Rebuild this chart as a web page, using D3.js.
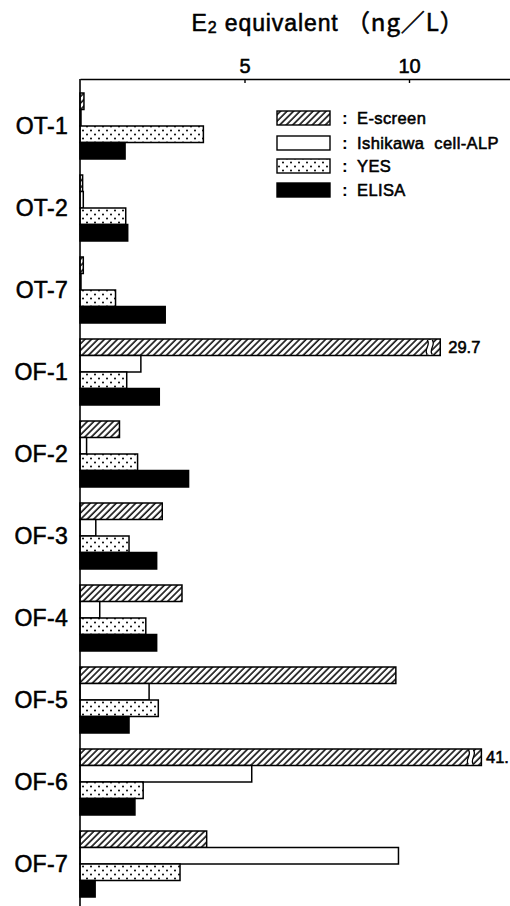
<!DOCTYPE html>
<html>
<head>
<meta charset="utf-8">
<script src="https://cdn.jsdelivr.net/npm/d3@7"></script>
<style>
  html, body { margin: 0; padding: 0; background: #fff; }
  svg { display: block; }
  text { font-family: "Liberation Sans", Arial, "Noto Sans CJK JP", sans-serif; fill: #000; }
  .heavy { stroke: #000; stroke-width: 0.55px; paint-order: stroke; }
</style>
</head>
<body>
<svg id="chart" width="510" height="906"></svg>
<script>
// Samples and measured E2 equivalents (ng/L) per assay
const samples = ["OT-1", "OT-2", "OT-7", "OF-1", "OF-2", "OF-3", "OF-4", "OF-5", "OF-6", "OF-7"];
const assays = ["E-screen", "Ishikawa  cell-ALP", "YES", "ELISA"];
const eScreen  = [0.12, 0.08, 0.10, 29.7, 1.20, 2.50, 3.10, 9.60, 41, 3.85];
const ishikawa = [0.03, 0.10, 0.03, 1.85, 0.20, 0.48, 0.60, 2.10, 5.22, 9.68];
const yes      = [3.75, 1.39, 1.08, 1.42, 1.75, 1.49, 2.00, 2.38, 1.92, 3.04];
const elisa    = [1.37, 1.45, 2.59, 2.41, 3.30, 2.33, 2.33, 1.49, 1.67, 0.46];
// Off-scale bars are cut with a break mark; the drawn length (in axis units) and printed value
const breakLength = [null, null, null, 10.95, null, null, null, null, 12.2, null];
const breakLabel  = [null, null, null, "29.7", null, null, null, null, "41.", null];
const tickValues = [5, 10];

const series = [eScreen, ishikawa, yes, elisa];
const fills = ["url(#hatch)", "#fff", "url(#dots)", "#000"];

const svg = d3.select("#chart");
const defs = svg.append("defs");

// diagonal hatching "/"
const hatch = defs.append("pattern")
  .attr("id", "hatch").attr("patternUnits", "userSpaceOnUse")
  .attr("width", 4.6).attr("height", 4.6)
  .attr("patternTransform", "rotate(45)");
hatch.append("rect").attr("width", 4.6).attr("height", 4.6).attr("fill", "#fff");
hatch.append("line").attr("x1", 1).attr("y1", 0).attr("x2", 1).attr("y2", 4.6)
  .attr("stroke", "#000").attr("stroke-width", 1.5);

// sparse stippling
const dots = defs.append("pattern")
  .attr("id", "dots").attr("patternUnits", "userSpaceOnUse")
  .attr("width", 8).attr("height", 8).attr("x", 81).attr("y", 0);
dots.append("rect").attr("width", 8).attr("height", 8).attr("fill", "#fff");
dots.append("circle").attr("cx", 2).attr("cy", 2.5).attr("r", 1).attr("fill", "#000");
dots.append("circle").attr("cx", 6).attr("cy", 6.5).attr("r", 1).attr("fill", "#000");

const x0 = 80, xEnd = 510, axisY = 79;
const x = d3.scaleLinear().domain([0, (xEnd - x0) / 32.9]).range([x0, xEnd]);

const y = d3.scaleBand().domain(samples).range([93, 897]).paddingInner(16 / 82).paddingOuter(0);
const ySub = d3.scaleBand().domain(d3.range(4)).range([0, y.bandwidth()]);

// title
const title = svg.append("text")
  .attr("class", "heavy")
  .attr("x", 328).attr("y", 31)
  .attr("text-anchor", "middle")
  .attr("font-size", 23)
  .attr("letter-spacing", 0.9);
title.append("tspan").text("E");
title.append("tspan").attr("font-size", 16).attr("dy", 2).text("2");
title.append("tspan").attr("dy", -2).text(" equivalent ");
title.append("tspan").attr("font-family", "'Noto Sans CJK JP', sans-serif").attr("font-size", 24).text("（ng／L）");

// top value axis
const axis = d3.axisTop(x).tickValues(tickValues).tickSizeInner(-4).tickSizeOuter(0).tickPadding(8);
const gx = svg.append("g").attr("transform", `translate(0,${axisY})`).call(axis);
gx.select(".domain").attr("stroke", "#000").attr("stroke-width", 1.6);
gx.selectAll(".tick line").attr("stroke", "#000").attr("stroke-width", 1.4);
gx.selectAll(".tick text")
  .attr("class", "heavy")
  .attr("font-size", 20).attr("font-family", "'Liberation Sans', Arial, sans-serif")
  .attr("dy", 0).attr("y", -6).attr("fill", "#000");

// bars
const barG = svg.append("g");
samples.forEach((s, i) => {
  series.forEach((vals, k) => {
    const v = vals[i];
    const broken = k === 0 && breakLength[i] != null;
    const shown = broken ? breakLength[i] : v;
    const by = y(s) + ySub(k);
    const bh = ySub.bandwidth();
    barG.append("rect")
      .attr("x", x(0)).attr("y", by)
      .attr("width", Math.max(0, x(shown) - x(0))).attr("height", bh)
      .attr("fill", fills[k])
      .attr("stroke", "#000").attr("stroke-width", 1.5);
    if (broken) {
      const bx = x(shown) - 13;
      const t = by + 1, b = by + bh - 1, h = b - t;
      const wave = (ox) => `M${ox},${t} C${ox + 4},${t + h * 0.35} ${ox - 4},${t + h * 0.65} ${ox},${b}`;
      barG.append("path")
        .attr("d", `${wave(bx)} L${bx + 5},${b} C${bx + 1},${t + h * 0.65} ${bx + 9},${t + h * 0.35} ${bx + 5},${t} Z`)
        .attr("fill", "#fff").attr("stroke", "none");
      barG.append("path").attr("d", wave(bx)).attr("fill", "none").attr("stroke", "#000").attr("stroke-width", 1.3);
      barG.append("path").attr("d", wave(bx + 5)).attr("fill", "none").attr("stroke", "#000").attr("stroke-width", 1.3);
      barG.append("text")
        .attr("class", "heavy")
        .attr("x", Math.min(x(shown) + 8, xEnd - 24)).attr("y", by + bh / 2)
        .attr("dy", "0.36em")
        .attr("font-size", 16.5)
        .text(breakLabel[i]);
    }
  });
});

// left category axis
svg.append("line")
  .attr("x1", x0).attr("x2", x0).attr("y1", axisY).attr("y2", 906)
  .attr("stroke", "#000").attr("stroke-width", 1.6);
svg.append("g").selectAll("text").data(samples).join("text")
  .attr("class", "heavy")
  .attr("x", 68).attr("y", d => y(d) + y.bandwidth() / 2)
  .attr("dy", "0.36em")
  .attr("text-anchor", "end")
  .attr("font-size", 23)
  .attr("letter-spacing", 0.3)
  .text(d => d);

// legend
const legend = svg.append("g");
const legY = [118, 143, 166, 190];
assays.forEach((name, k) => {
  legend.append("rect")
    .attr("x", 277).attr("y", legY[k] - 7).attr("width", 53).attr("height", 14)
    .attr("fill", fills[k]).attr("stroke", "#000").attr("stroke-width", 1.4);
  legend.append("text")
    .attr("x", 342).attr("y", legY[k]).attr("dy", "0.36em")
    .attr("font-size", 17).attr("font-weight", "bold").text(":");
  legend.append("text")
    .attr("class", "heavy")
    .attr("x", 357).attr("y", legY[k]).attr("dy", "0.36em")
    .attr("font-size", 16.5).attr("letter-spacing", 0.4)
    .style("white-space", "pre")
    .text(name);
});
</script>
</body>
</html>
